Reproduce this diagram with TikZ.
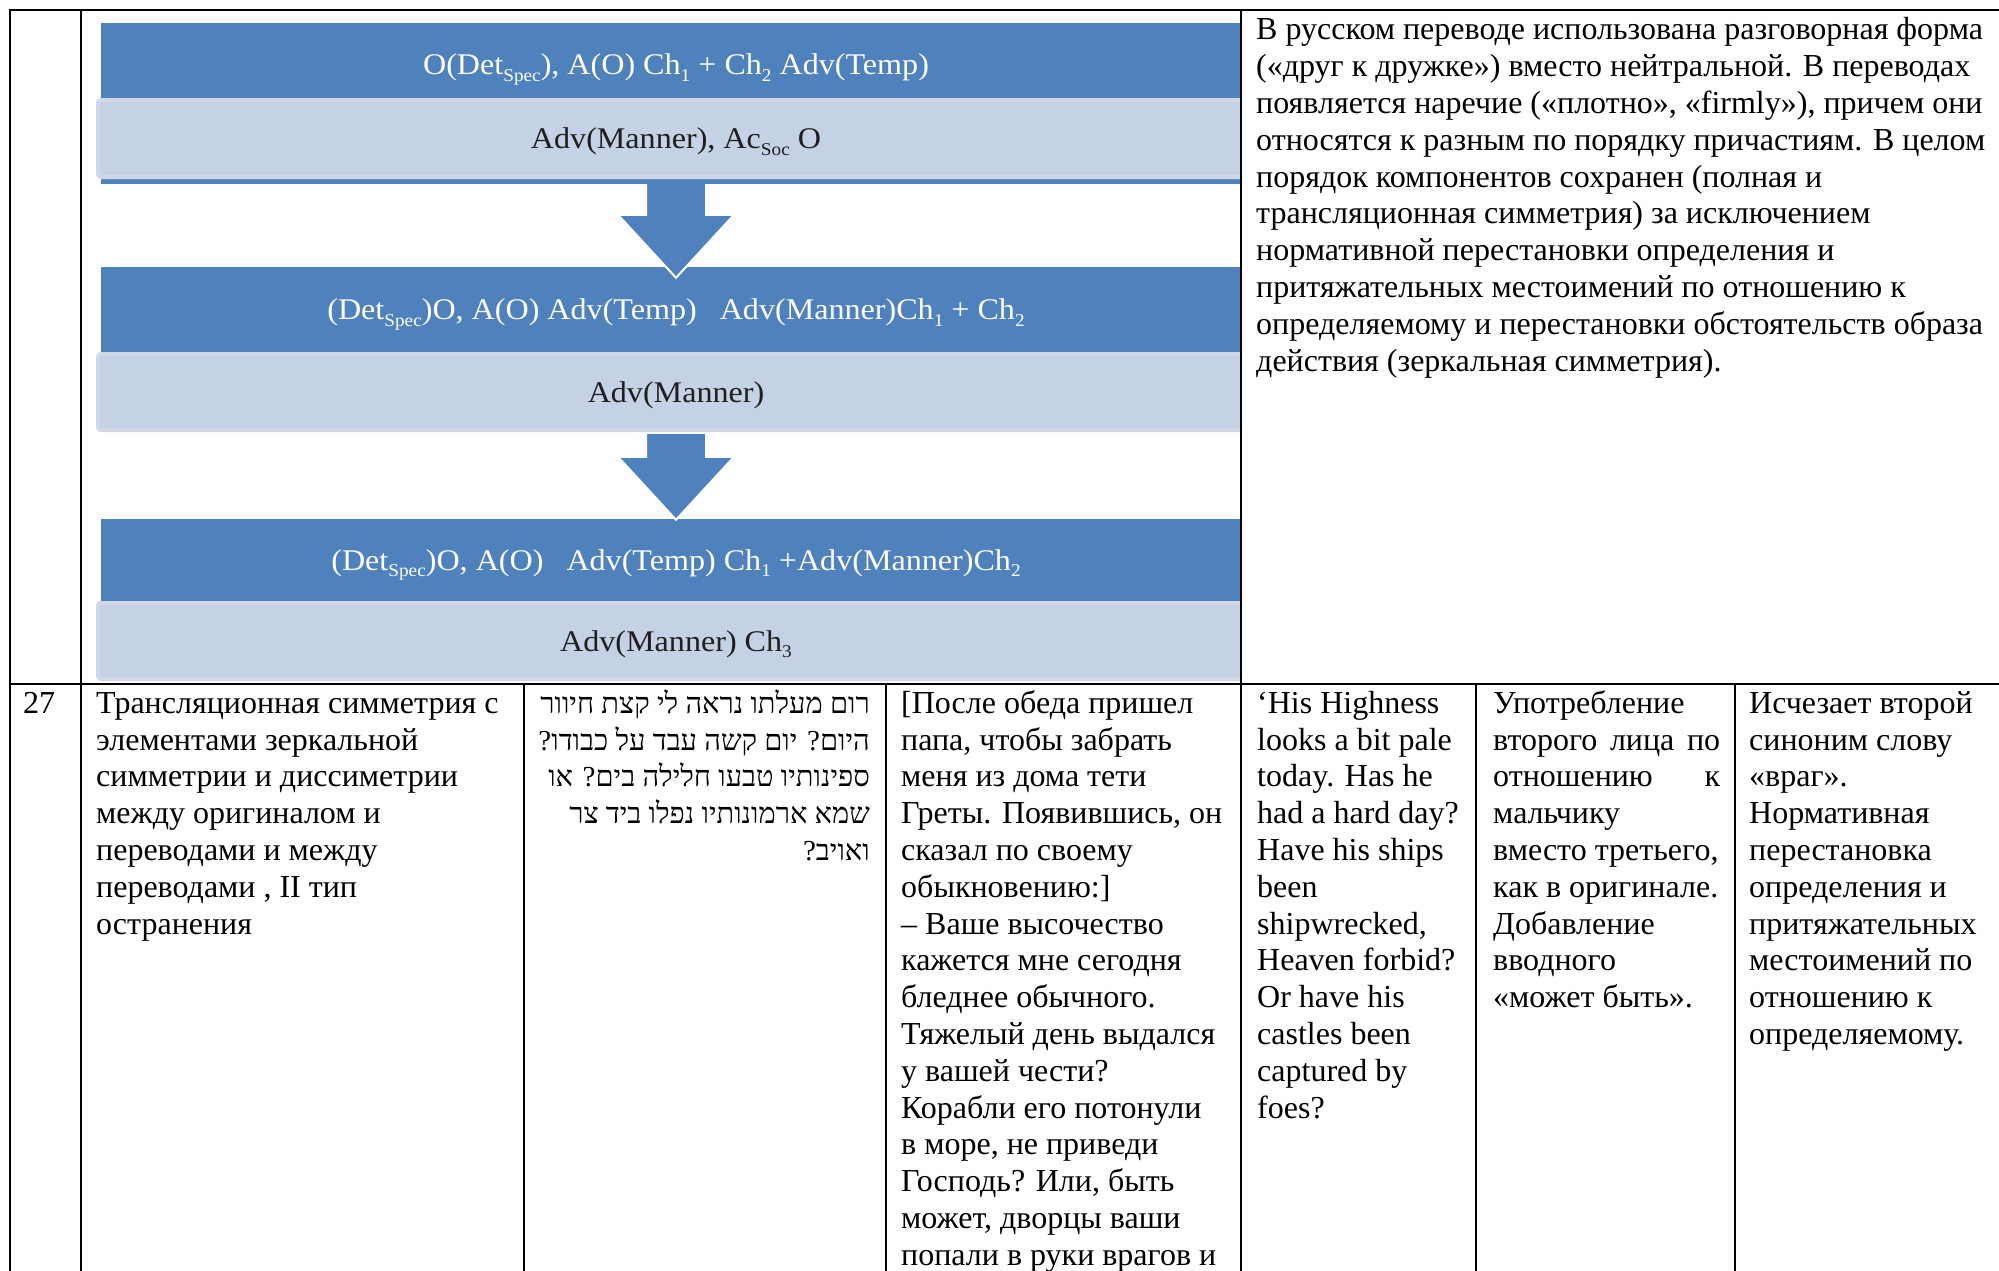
\documentclass[tikz,border=0pt]{standalone}
\usepackage{fontspec}
\usepackage{graphicx}
\usetikzlibrary{calc}
\setmainfont{Liberation Serif}
\newfontfamily\hebfont[Script=Hebrew]{Liberation Serif}
\newfontfamily\flowfont[FakeStretch=1.07]{Liberation Serif}
\TeXXeTstate=1

\definecolor{accentblue}{RGB}{79,129,189}
\definecolor{paleblue}{RGB}{197,209,228}
\definecolor{paleedge}{RGB}{208,216,232}

\newcommand\bodysize{\fontsize{32}{36.8}\selectfont}
\newcommand\hebsize{\hebfont\fontsize{29}{36.8}\selectfont}
\newcommand\flowsize{\flowfont\fontsize{30}{34}\selectfont}
\newcommand\subtx[1]{\raisebox{-0.22em}{\fontsize{18}{18}\selectfont #1}}

% block arrow pointing down: #1 = top of the shaft, #2 = tip
\newcommand\downblock[2]{%
  \fill[accentblue] ($(#1)+(-30,0)$) -- ($(#1)+(30,0)$) -- ($(#2)+(30,-63)$) -- ($(#2)+(58,-63)$)
    -- (#2) -- ($(#2)+(-58,-63)$) -- ($(#2)+(-30,-63)$) -- cycle;
  \draw[arrowrim] ($(#1)+(30,0)$) -- ($(#2)+(30,-63)$) -- ($(#2)+(58,-63)$)
    -- (#2) -- ($(#2)+(-58,-63)$) -- ($(#2)+(-30,-63)$) -- ($(#1)+(-30,0)$);}

\begin{document}
\begin{tikzpicture}[x=1pt,y=-1pt,
  rule/.style={line width=2.4pt, line cap=rect},
  bluebox/.style={rectangle, fill=accentblue, text=white, inner sep=0pt,
    minimum width=1150pt, font=\flowsize, text height=24pt, text depth=4pt},
  palebox/.style={rectangle, fill=paleblue, draw=paleedge, line width=4pt,
    rounded corners=3pt, text=black!88, inner sep=0pt, minimum width=1156pt,
    font=\flowsize, text height=24pt, text depth=4pt},
  arrowrim/.style={draw=white, line width=2pt, line join=miter},
  cell/.style={inner sep=0pt, anchor=north west, align=left, font=\bodysize},
]
\fill[white] (0,0) rectangle (1999,1270);
\useasboundingbox (0,0) rectangle (1999,1270);
\clip (0,0) rectangle (1999,1270);

% ---- flow of sentence patterns (first row, middle cell) ----
\begin{scope}
\clip (82,11) rectangle (1240,683);
\node[bluebox, minimum height=75pt, text height=32pt] (b1) at (676,60.5)
  {O(Det\subtx{Spec}), A(O) Ch\subtx{1} + Ch\subtx{2} Adv(Temp)};
\fill[accentblue] (b1.south west) rectangle ($(b1.south east)+(0,86)$);
\node[palebox, minimum height=77pt] (l1) at (676,138.5)
  {Adv(Manner), Ac\subtx{Soc} O};
\node[bluebox, minimum height=85pt] (b2) at (676,309.5)
  {(Det\subtx{Spec})O, A(O) Adv(Temp)\hspace{0.5em} Adv(Manner)Ch\subtx{1} + Ch\subtx{2}};
\node[palebox, minimum height=76pt] (l2) at (676,392) {Adv(Manner)};
\node[bluebox, minimum height=82pt] (b3) at (676,560)
  {(Det\subtx{Spec})O, A(O)\hspace{0.5em} Adv(Temp) Ch\subtx{1} +Adv(Manner)Ch\subtx{2}};
\node[palebox, minimum height=76pt] (l3) at (676,641) {Adv(Manner) Ch\subtx{3}};

\coordinate (a1top) at ($(b1.south)+(0,86)$);
\coordinate (a1tip) at ($(b2.north)+(0,11)$);
\coordinate (a2top) at ($(l2.south)+(0,2)$);
\coordinate (a2tip) at ($(b3.north)+(0,1)$);
\downblock{a1top}{a1tip}
\downblock{a2top}{a2tip}
\end{scope}

% ---- comment cell of the first row ----
\node[cell] (note) at (1256,14) {\strut В русском переводе использована разговорная форма\\
(«друг к дружке») вместо нейтральной. В переводах\\
появляется наречие («плотно», «firmly»), причем они\\
относятся к разным по порядку причастиям. В целом\\
порядок компонентов сохранен (полная и\\
трансляционная симметрия) за исключением\\
нормативной перестановки определения и\\
притяжательных местоимений по отношению к\\
определяемому и перестановки обстоятельств образа\\
действия (зеркальная симметрия).};

% ---- row 27 ----
\node[cell] (num) at (23,687.24) {\strut 27};
\node[cell] (kind) at (96,687.24) {\strut Трансляционная симметрия с\\
элементами зеркальной\\
симметрии и диссиметрии\\
между оригиналом и\\
переводами и между\\
переводами , II тип\\
остранения};
\node[cell, anchor=north east, align=right, font=\hebsize] (orig) at (870,687.24)
{\strut\beginR רום מעלתו נראה לי קצת חיוור\endR\\
\beginR היום? יום קשה עבד על כבודו?\endR\\
\beginR ספינותיו טבעו חלילה בים? או\endR\\
\beginR שמא ארמונותיו נפלו ביד צר\endR\\
\beginR ואויב?\endR};
\node[cell] (ru) at (901,687.24) {\strut [После обеда пришел\\
папа, чтобы забрать\\
меня из дома тети\\
Греты. Появившись, он\\
сказал по своему\\
обыкновению:]\\
– Ваше высочество\\
кажется мне сегодня\\
бледнее обычного.\\
Тяжелый день выдался\\
у вашей чести?\\
Корабли его потонули\\
в море, не приведи\\
Господь? Или, быть\\
может, дворцы ваши\\
попали в руки врагов и};
\node[cell] (en) at (1257,687.24) {\strut ‘His Highness\\
looks a bit pale\\
today. Has he\\
had a hard day?\\
Have his ships\\
been\\
shipwrecked,\\
Heaven forbid?\\
Or have his\\
castles been\\
captured by\\
foes?};
\node[cell] (remA) at (1493,687.24) {\strut Употребление\\
\hbox to 227pt{второго\hfill лица\hfill по}\\
\hbox to 227pt{отношению\hfill к}\\
мальчику\\
вместо третьего,\\
как в оригинале.\\
Добавление\\
вводного\\
«может быть».};
\node[cell] (remB) at (1749,687.24) {\strut Исчезает второй\\
синоним слову\\
«враг».\\
Нормативная\\
перестановка\\
определения и\\
притяжательных\\
местоимений по\\
отношению к\\
определяемому.};

% ---- table rules ----
\draw[rule] (2010,10) -- (10,10) -- (10,1280);
\draw[rule] (81,10) -- (81,1280);
\draw[rule] (1241,10) -- (1241,1280);
\draw[rule] (10,684) -- (2010,684);
\draw[rule] (524,684) -- (524,1280);
\draw[rule] (886,684) -- (886,1280);
\draw[rule] (1476,684) -- (1476,1280);
\draw[rule] (1735,684) -- (1735,1280);
\end{tikzpicture}
\end{document}
